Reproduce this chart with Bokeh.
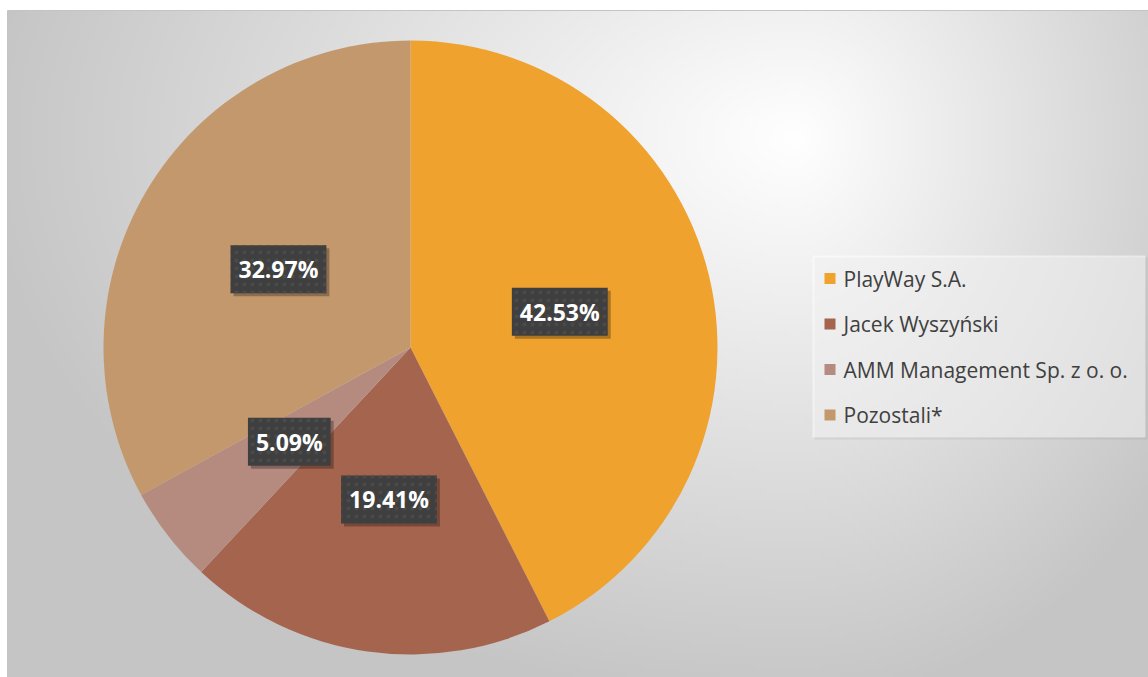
import numpy as np
from bokeh.plotting import figure
from bokeh.models import Range1d, ColumnDataSource
from bokeh.core.properties import value
from bokeh.embed import file_html
from bokeh.resources import INLINE

# ---- data ----
categories = ["PlayWay S.A.", "Jacek Wyszyński", "AMM Management Sp. z o. o.", "Pozostali*"]
shares = [42.53, 19.41, 5.09, 32.97]
labels = ["42.53%", "19.41%", "5.09%", "32.97%"]
colors = ["#F0A22E", "#A5644E", "#B58B80", "#C3986D"]

W, H = 1148, 677
CX, CY, R = 410, 330, 307

p = figure(width=W, height=H, output_backend="svg", toolbar_location=None,
           x_range=Range1d(0, W), y_range=Range1d(0, H), min_border=0,
           outline_line_color=None, background_fill_color="white")
p.axis.visible = False
p.grid.visible = False

# chart-area background: radial gradient
AX0, AY1 = 7, H - 10          # left edge, top edge of chart area
aw, ah = W - AX0, AY1
gw, gh = aw // 4, ah // 4
xs = AX0 + (np.arange(gw) + 0.5) * aw / gw
ys = (np.arange(gh) + 0.5) * ah / gh
X, Y = np.meshgrid(xs, ys)
gx, gy = 795, 540
dx = np.where(X < gx, (X - gx) / 820.0, (X - gx) / 470.0)
dy = np.where(Y < gy, (Y - gy) / 570.0, (Y - gy) / 520.0)
d = np.clip(np.sqrt(dx ** 2 + dy ** 2), 0, 1)
g = (255 - 58 * d).astype(np.uint32)
img = (255 << 24) | (g << 16) | (g << 8) | g
p.image_rgba(image=[img.astype(np.uint32)], x=AX0, y=0, dw=aw, dh=ah)
p.segment(x0=[AX0, AX0], y0=[AY1, 0], x1=[W, AX0], y1=[AY1, AY1], line_color="#c4c4c4", line_width=1)

# wedges
frac = np.array(shares) / sum(shares)
cum = np.concatenate([[0], np.cumsum(frac)])
start = np.pi / 2 - cum[:-1] * 2 * np.pi
end = np.pi / 2 - cum[1:] * 2 * np.pi
mid = (start + end) / 2
src = ColumnDataSource(dict(cat=categories, start=start, end=end, color=colors,
                            lx=CX + 0.5 * R * np.cos(mid), ly=CY + 0.5 * R * np.sin(mid),
                            lab=labels))
p.wedge(x=CX, y=CY, radius=R, start_angle="start", end_angle="end",
        direction="clock", fill_color="color", line_color=None, source=src)

# label shadows
p.text(x="lx", y="ly", text="lab", source=src, text_alpha=0,
       text_font=value("Open Sans"), text_font_style="bold", text_font_size="23px",
       text_align="center", text_baseline="middle", x_offset=3, y_offset=3,
       background_fill_color="black", background_fill_alpha=0.28, padding=8)
# labels
p.text(x="lx", y="ly", text="lab", source=src, text_color="white",
       text_font=value("Open Sans"), text_font_style="bold", text_font_size="23px",
       text_align="center", text_baseline="middle",
       background_fill_color="#3f3f3f", background_hatch_pattern="dot",
       background_hatch_color="#4a4a4a", background_hatch_scale=8, padding=8)

# legend (drawn manually)
LX0, LX1, LY0, LY1 = 812, 1145, H - 437, H - 255
p.quad(left=LX0 + 2, right=LX1 + 2, bottom=LY0 - 2, top=LY1 - 2, fill_color="black",
       fill_alpha=0.06, line_color=None)
p.quad(left=LX0, right=LX1, bottom=LY0, top=LY1, fill_color="white",
       fill_alpha=0.5, line_color=None)
n = len(categories)
row_y = [LY1 - 23 - i * 45.5 for i in range(n)]
p.rect(x=[829.5] * n, y=row_y, width=11, height=11, fill_color=colors, line_color=None)
p.text(x=[843] * n, y=row_y, text=categories, text_color="#404040",
       text_font=value("Open Sans"), text_font_size="21px",
       text_align="left", text_baseline="middle")

open("out.html", "w").write(file_html(p, INLINE))
